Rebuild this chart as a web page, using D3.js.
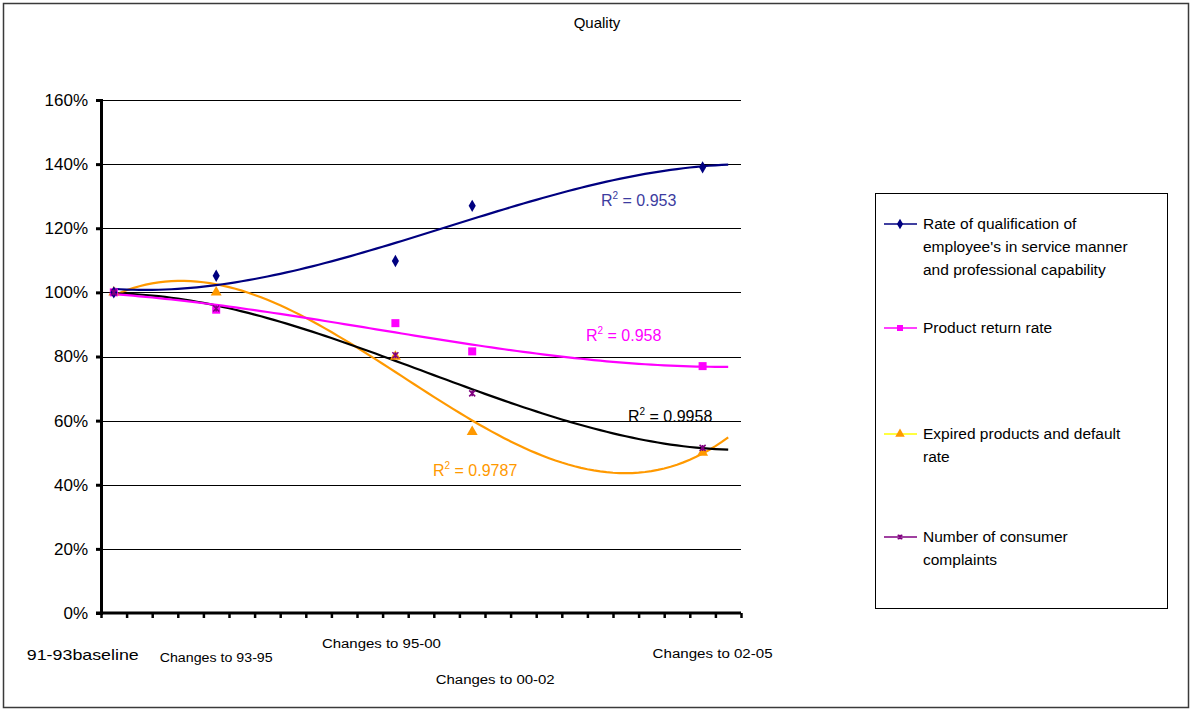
<!DOCTYPE html>
<html>
<head>
<meta charset="utf-8">
<script src="https://cdn.jsdelivr.net/npm/d3@7"></script>
<style>
  html, body { margin: 0; padding: 0; background: #fff; }
  svg { display: block; }
  text { font-family: "Liberation Sans", Arial, sans-serif; }
</style>
</head>
<body>
<svg id="chart" width="1192" height="710"></svg>
<script>
// ---------------- data ----------------
const title = "Quality";
const categoryCount = 25;                 // category slots on the x axis
const dataIndex = [0, 4, 11, 14, 23];     // slots holding the observed periods
const periodLabels = ["91-93baseline", "Changes to 93-95", "Changes to 95-00", "Changes to 00-02", "Changes to 02-05"];
const yTicks = [0, 20, 40, 60, 80, 100, 120, 140, 160];

const seriesNames = [
  "Rate of qualification of employee's in service manner and professional capability",
  "Product return rate",
  "Expired products and default rate",
  "Number of consumer complaints"
];
const qualificationRate = [100, 105.2, 109.8, 127, 139];
const productReturnRate = [100, 94.6, 90.4, 81.6, 77];
const expiredRate       = [100, 100, 80, 56.5, 50];
const complaints        = [100, 95, 80.4, 68.5, 51.5];
const r2Labels = ["0.953", "0.958", "0.9787", "0.9958"];
const trendOrder = 3;

// ---------------- layout ----------------
const svg = d3.select("#chart");
const plot = { left: 101, right: 741, top: 100, bottom: 613 };

const x = d3.scaleBand().domain(d3.range(categoryCount)).range([plot.left, plot.right]).paddingInner(0).paddingOuter(0);
const xc = i => x(0) + x.bandwidth() * (i + 0.5);
const y = d3.scaleLinear().domain([0, 160]).range([plot.bottom, plot.top]);

// outer frame
svg.append("rect").attr("x", 3.5).attr("y", 3.5).attr("width", 1185).attr("height", 704)
  .attr("fill", "#fff").attr("stroke", "#3a3a3a").attr("stroke-width", 1.5);

// title
svg.append("text").attr("x", 597).attr("y", 28).attr("text-anchor", "middle")
  .attr("font-size", 15).attr("fill", "#000").text(title);

// gridlines
svg.append("g").selectAll("line").data(yTicks.filter(d => d > 0)).join("line")
  .attr("x1", plot.left).attr("x2", plot.right)
  .attr("y1", d => Math.round(y(d)) + 0.5).attr("y2", d => Math.round(y(d)) + 0.5)
  .attr("stroke", "#000").attr("stroke-width", 1);

// y axis
const yAxis = d3.axisLeft(y).tickValues(yTicks).tickFormat(d => d + "%").tickSize(5).tickPadding(8);
const gy = svg.append("g").attr("transform", `translate(${plot.left},0)`).call(yAxis);
gy.select(".domain").attr("stroke", "#000").attr("stroke-width", 3);
gy.selectAll(".tick line").attr("stroke", "#000").attr("stroke-width", 3);
gy.selectAll(".tick text").attr("font-size", 17).attr("fill", "#000")
  .attr("font-family", "'Liberation Sans', Arial, sans-serif");

// x axis: ticks at category boundaries
const xBound = d3.scaleLinear().domain([0, categoryCount]).range([plot.left, plot.right]);
const xAxis = d3.axisBottom(xBound).tickValues(d3.range(categoryCount + 1)).tickFormat("").tickSize(5).tickSizeOuter(0);
const gx = svg.append("g").attr("transform", `translate(0,${plot.bottom})`).call(xAxis);
gx.select(".domain").attr("stroke", "#000").attr("stroke-width", 3).attr("d", `M${plot.left - 5},0H${plot.right}`);
gx.selectAll(".tick line").attr("stroke", "#000").attr("stroke-width", 2.5);

// x labels (staggered text boxes near their periods)
const labelPos = [
  { dx: -31, y: 660, size: 15, w: 112 },
  { dx: 0, y: 662, size: 12.5, w: 113 },
  { dx: -14, y: 648, size: 12.5, w: 119 },
  { dx: 23, y: 684, size: 12.5, w: 119 },
  { dx: 10, y: 658, size: 12.5, w: 120 }
];
svg.append("g").selectAll("text").data(periodLabels).join("text")
  .attr("x", (d, i) => xc(dataIndex[i]) + labelPos[i].dx)
  .attr("y", (d, i) => labelPos[i].y)
  .attr("text-anchor", "middle")
  .attr("font-family", "Lato, 'Open Sans', sans-serif")
  .attr("font-size", (d, i) => labelPos[i].size)
  .attr("textLength", (d, i) => labelPos[i].w)
  .attr("lengthAdjust", "spacingAndGlyphs")
  .attr("fill", "#000")
  .text(d => d);

// ---------------- trendlines (least-squares polynomial, as the chart shows) ----------------
function polyFit(xs, ys, order) {
  const n = order + 1;
  const A = Array.from({ length: n }, () => new Array(n + 1).fill(0));
  for (let k = 0; k < xs.length; k++) {
    for (let r = 0; r < n; r++) {
      for (let c = 0; c < n; c++) A[r][c] += Math.pow(xs[k], r + c);
      A[r][n] += ys[k] * Math.pow(xs[k], r);
    }
  }
  for (let i = 0; i < n; i++) {
    let p = i;
    for (let r = i + 1; r < n; r++) if (Math.abs(A[r][i]) > Math.abs(A[p][i])) p = r;
    [A[i], A[p]] = [A[p], A[i]];
    for (let r = 0; r < n; r++) {
      if (r === i) continue;
      const f = A[r][i] / A[i][i];
      for (let c = i; c <= n; c++) A[r][c] -= f * A[i][c];
    }
  }
  return A.map((row, i) => row[n] / row[i]);
}
const polyEval = (co, t) => co.reduce((s, c, i) => s + c * Math.pow(t, i), 0);

const series = [
  { values: qualificationRate, marker: "diamond", color: "#000080", trend: "#000080", legendLine: "#000080", label: "#3c3ca0", lx: 601, ly: 206 },
  { values: productReturnRate, marker: "square", color: "#FF00FF", trend: "#FF00FF", legendLine: "#FF00FF", label: "#FF00FF", lx: 586, ly: 341 },
  { values: expiredRate, marker: "triangle", color: "#FF9900", trend: "#FF9900", legendLine: "#FFFF00", label: "#FF9900", lx: 433, ly: 476 },
  { values: complaints, marker: "x", color: "#800080", trend: "#000000", legendLine: "#800080", label: "#000000", lx: 628, ly: 422 }
];

const xsFit = dataIndex.map(i => i + 1);
const fine = d3.range(0, categoryCount - 1 + 0.001, 0.25);
const line = d3.line().x(d => xc(d[0])).y(d => y(d[1]));

series.forEach(s => {
  s.coef = polyFit(xsFit, s.values, trendOrder);
  s.curve = fine.map(t => [t, polyEval(s.coef, t + 1)]);
});

// draw trend lines
[2, 3, 1, 0].forEach(k => {
  const s = series[k];
  svg.append("path").attr("d", line(s.curve)).attr("fill", "none")
    .attr("stroke", s.trend).attr("stroke-width", 2.2);
});

// markers
function drawMarker(g, type, color, cx, cy, scale = 1) {
  if (type === "diamond") {
    g.append("path").attr("d", d3.symbol(d3.symbolDiamond, 44 * scale)()).attr("transform", `translate(${cx},${cy})`).attr("fill", color);
  } else if (type === "square") {
    g.append("rect").attr("x", cx - 4 * scale).attr("y", cy - 4 * scale).attr("width", 8 * scale).attr("height", 8 * scale).attr("fill", color);
  } else if (type === "triangle") {
    g.append("path").attr("d", d3.symbol(d3.symbolTriangle, 52 * scale)()).attr("transform", `translate(${cx},${cy})`).attr("fill", color);
  } else {
    const r = 3 * scale;
    g.append("path").attr("d", `M${cx - r},${cy - r}L${cx + r},${cy + r}M${cx + r},${cy - r}L${cx - r},${cy + r}M${cx},${cy - r}V${cy + r}`)
      .attr("stroke", color).attr("stroke-width", 1.5).attr("fill", "none");
  }
}
const mg = svg.append("g");
[2, 1, 0, 3].forEach(k => {
  const s = series[k];
  s.values.forEach((v, j) => drawMarker(mg, s.marker, s.color, xc(dataIndex[j]), y(v)));
});

// R² labels
series.forEach((s, k) => {
  const t = svg.append("text").attr("x", s.lx).attr("y", s.ly).attr("font-size", 16).attr("fill", s.label);
  t.append("tspan").text("R");
  t.append("tspan").attr("font-size", 10).attr("dy", -7).text("2");
  t.append("tspan").attr("dy", 7).text(" = " + r2Labels[k]);
});

// ---------------- legend ----------------
const lg = svg.append("g");
lg.append("rect").attr("x", 875.5).attr("y", 193.5).attr("width", 292).attr("height", 415)
  .attr("fill", "#fff").attr("stroke", "#000").attr("stroke-width", 1);
const legendLines = [
  ["Rate of qualification of", "employee's in service manner", "and professional capability"],
  ["Product return rate"],
  ["Expired products and default", "rate"],
  ["Number of consumer", "complaints"]
];
const legendY = [224, 328, 434, 537];
series.forEach((s, k) => {
  const yy = legendY[k];
  lg.append("line").attr("x1", 884).attr("x2", 917).attr("y1", yy).attr("y2", yy)
    .attr("stroke", s.legendLine).attr("stroke-width", 1.5);
  drawMarker(lg, s.marker, s.color, 900, yy, 0.75);
  legendLines[k].forEach((txt, j) => {
    lg.append("text").attr("x", 923).attr("y", yy + 5 + j * 23).attr("font-size", 15.5).attr("fill", "#000").text(txt);
  });
});
</script>
</body>
</html>
